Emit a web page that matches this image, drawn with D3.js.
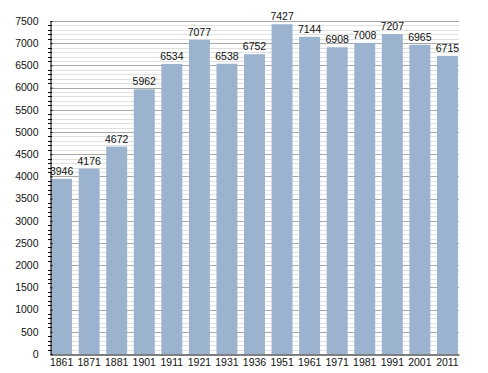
<!DOCTYPE html>
<html><head><meta charset="utf-8">
<script src="https://cdn.jsdelivr.net/npm/d3@7"></script>
<style>body{margin:0;background:#fff}</style>
</head><body>
<svg id="c" width="488" height="373"></svg>
<script>
const years = ["1861","1871","1881","1901","1911","1921","1931","1936","1951","1961","1971","1981","1991","2001","2011"];
const population = [3946,4176,4672,5962,6534,7077,6538,6752,7427,7144,6908,7008,7207,6965,6715];
const yTicks = [0,500,1000,1500,2000,2500,3000,3500,4000,4500,5000,5500,6000,6500,7000,7500];

const svg = d3.select("#c");
const L = 50, R = 459, T = 21, B = 354;
const x = d3.scaleBand().domain(years).range([L, R]).paddingInner(0.24).paddingOuter(0.04);
const y = d3.scaleLinear().domain([0, 7500]).range([B, T]);
const font = "Liberation Sans, Arial, sans-serif";

// minor gridlines
const minor = d3.range(0, 7501, 100).filter(v => v % 500 !== 0);
svg.append("g").selectAll("line").data(minor).join("line")
  .attr("x1", L).attr("x2", R).attr("y1", d => Math.round(y(d)) + 0.5).attr("y2", d => Math.round(y(d)) + 0.5)
  .attr("stroke", "#e0e0e0").attr("stroke-width", 1);
// major gridlines
svg.append("g").selectAll("line").data(yTicks.filter(v => v > 0)).join("line")
  .attr("x1", L).attr("x2", R).attr("y1", d => Math.round(y(d)) + 0.5).attr("y2", d => Math.round(y(d)) + 0.5)
  .attr("stroke", "#a8a8a8").attr("stroke-width", 1);

// bars
svg.append("g").selectAll("rect").data(years).join("rect")
  .attr("x", d => x(d)).attr("width", x.bandwidth())
  .attr("y", (d, i) => y(population[i])).attr("height", (d, i) => B - y(population[i]))
  .attr("fill", "#9bb3cf");

// value labels
svg.append("g").selectAll("text").data(years).join("text")
  .attr("x", d => x(d) + x.bandwidth() / 2).attr("y", (d, i) => y(population[i]) - 4)
  .attr("text-anchor", "middle").attr("font-family", font).attr("font-size", 10.5).attr("fill", "#111")
  .text((d, i) => population[i]);

// y axis minor ticks
svg.append("g").selectAll("line").data(minor).join("line")
  .attr("x1", L - 2).attr("x2", L + 2).attr("y1", d => Math.round(y(d)) + 0.5).attr("y2", d => Math.round(y(d)) + 0.5)
  .attr("stroke", "#000").attr("stroke-width", 1);

// y axis
const yAxis = svg.append("g").attr("transform", `translate(${L + 0.5},0)`)
  .call(d3.axisLeft(y).tickValues(yTicks).tickSize(4).tickSizeOuter(0).tickFormat(d3.format("d")));
yAxis.select(".domain").attr("stroke", "#000");
yAxis.selectAll(".tick line").attr("x2", 2);
yAxis.selectAll("text").attr("font-family", font).attr("font-size", 10.5).attr("fill", "#111").attr("x", -12);

// x axis
const xAxis = svg.append("g").attr("transform", `translate(0,${B + 0.5})`)
  .call(d3.axisBottom(x).tickSize(0).tickSizeOuter(0));
xAxis.select(".domain").attr("stroke", "#000").attr("stroke-width", 1.2);
xAxis.selectAll("text").attr("font-family", font).attr("font-size", 10.5).attr("fill", "#111").attr("dy", "0.95em").attr("y", 2);
</script>
</body></html>
